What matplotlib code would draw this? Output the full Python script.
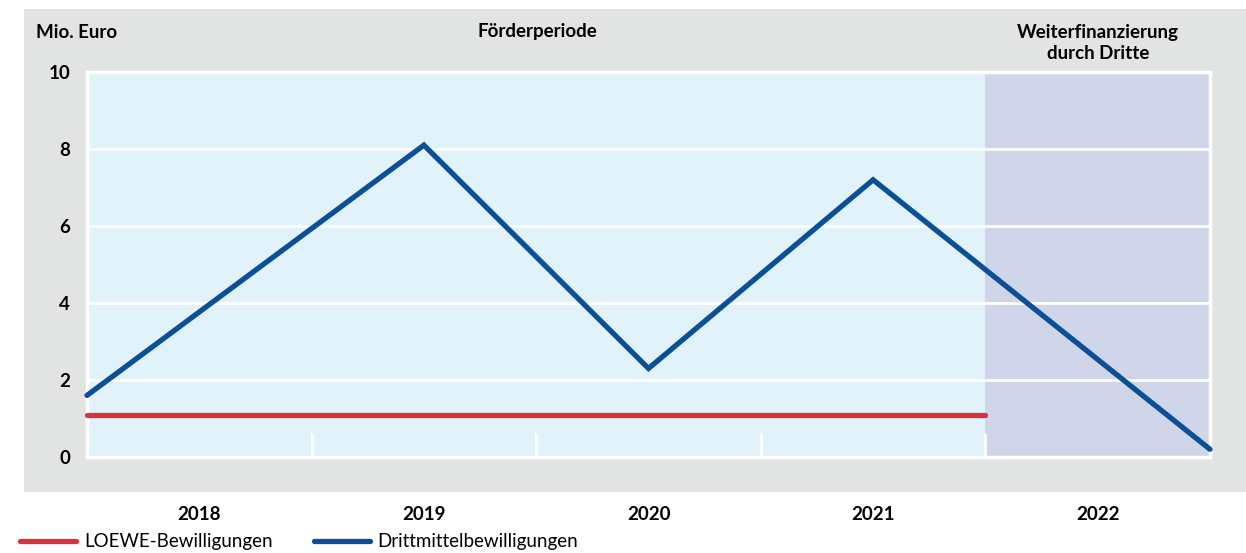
import matplotlib.pyplot as plt
from matplotlib.patches import Rectangle

years = [2018, 2019, 2020, 2021, 2022]
year_labels = ["2018", "2019", "2020", "2021", "2022"]

# Drittmittel: start of 2018, mid 2019/2020/2021, end of 2022
dritt_x = [2017.5, 2019, 2020, 2021, 2022.5]
dritt_y = [1.6, 8.1, 2.3, 7.2, 0.2]

loewe_x = [2017.5, 2021.5]
loewe_y = [1.1, 1.1]

yticks = [0, 2, 4, 6, 8, 10]

grey = "#e2e3e3"
light_blue = "#e1f2fa"
lavender = "#d0d5e9"
red = "#d9323e"
blue = "#0a4f97"

plt.rcParams["font.family"] = ["Lato", "DejaVu Sans"]

fig = plt.figure(figsize=(12.46, 5.53), dpi=100)
W, H = 1246, 553

# grey panel behind the plot
fig.patches.append(Rectangle((24 / W, 1 - 492 / H), (1246 - 24) / W, (492 - 9) / H,
                             transform=fig.transFigure, facecolor=grey,
                             edgecolor="none", zorder=-10))

ax = fig.add_axes([87 / W, 1 - 457 / H, (1210 - 87) / W, (457 - 72) / H])
ax.set_zorder(1)
ax.set_facecolor(light_blue)
ax.set_xlim(2017.5, 2022.5)
ax.set_ylim(0, 10)
ax.axvspan(2021.5, 2022.5, color=lavender, zorder=0.5, lw=0)

for y in yticks[1:-1]:
    ax.axhline(y, color="white", lw=2, zorder=1)
ax.vlines([2018.5, 2019.5, 2020.5, 2021.5], 0, 0.62, color="white", lw=2, zorder=1)

for s in ax.spines.values():
    s.set_color("white")
    s.set_linewidth(2.5)

l1, = ax.plot(loewe_x, loewe_y, color=red, lw=3.8, solid_capstyle="round",
              zorder=3, clip_on=False, label="LOEWE-Bewilligungen")
l2, = ax.plot(dritt_x, dritt_y, color=blue, lw=3.8, solid_capstyle="round",
              solid_joinstyle="miter", zorder=4, clip_on=False,
              label="Drittmittelbewilligungen")

ax.set_xticks([])
ax.set_yticks(yticks)
ax.set_yticklabels([str(v) for v in yticks], fontsize=13.5, fontweight="bold")
ax.tick_params(axis="y", length=0, pad=12)

xt = ax.get_xaxis_transform()
for yr, lab in zip(years, year_labels):
    ax.text(yr, -0.15, lab, transform=xt, ha="center", va="center",
            fontsize=13.5, fontweight="bold")

fig.text(36 / W, 1 - 32 / H, "Mio. Euro", ha="left", va="center",
         fontsize=13.5, fontweight="bold")
fig.text(537 / W, 1 - 32 / H, "Förderperiode", ha="center", va="center",
         fontsize=13.5, fontweight="bold")
fig.text(1098 / W, 1 - 43 / H, "Weiterfinanzierung\ndurch Dritte", ha="center",
         va="center", fontsize=13.5, fontweight="bold", linespacing=1.35)

fig.legend(handles=[l1, l2], loc="center left", bbox_to_anchor=(20 / W, 1 - 542 / H),
           ncol=2, frameon=False, fontsize=13.5, handlelength=3.0,
           handletextpad=0.4, columnspacing=2.2, borderpad=0, borderaxespad=0)

fig.savefig("out.png", dpi=100)
